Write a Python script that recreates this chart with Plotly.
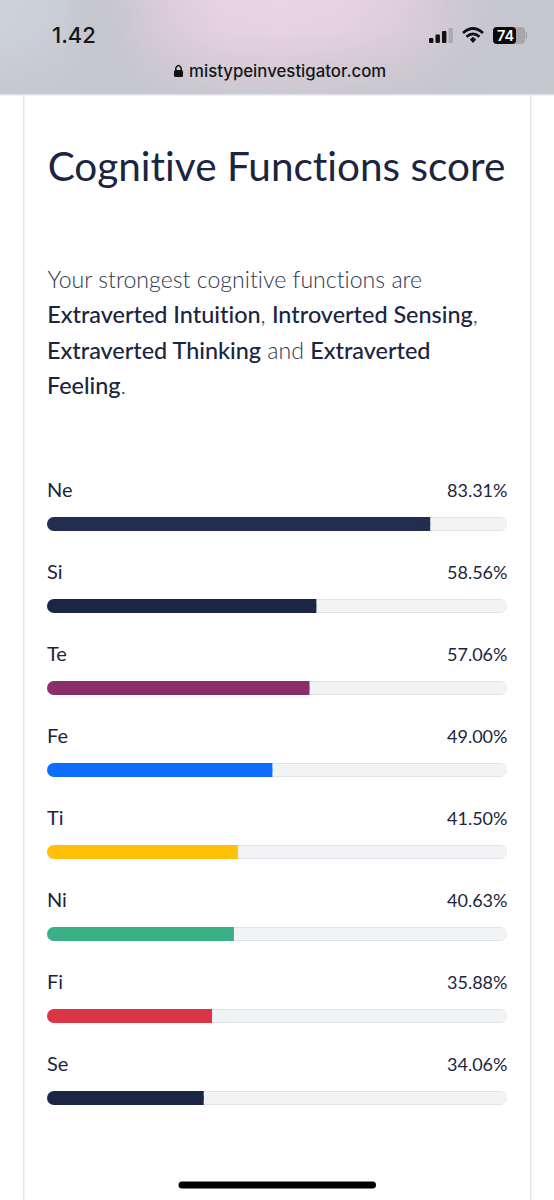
import plotly.graph_objects as go

W, H = 554, 1200
functions = ["Ne", "Si", "Te", "Fe", "Ti", "Ni", "Fi", "Se"]
scores = [83.31, 58.56, 57.06, 49.00, 41.50, 40.63, 35.88, 34.06]
score_labels = ["83.31%", "58.56%", "57.06%", "49.00%", "41.50%", "40.63%", "35.88%", "34.06%"]
colors = ["#232D50", "#1B2645", "#8A2F6B", "#0D6EFD", "#FFC107", "#3AB087", "#DC3545", "#1B2645"]
TRACK = 100
TAIL = 2
FONT = "Lato"
INK = "#1B2540"
BODY = "#2F3850"

def px(x): return x / W
def py(y): return 1 - y / H

fig = go.Figure()

# Blurred status bar backdrop
fig.add_trace(go.Heatmap(
    x=[0, 60, 120, 170, 220, 280, 340, 400, 450, 500, 554],
    y=[0, 30, 60, 95],
    z=[[.02, .07, .25, .65, .95, 1.0, .95, .70, .35, .16, .14],
       [.03, .08, .22, .58, .85, .92, .85, .62, .32, .16, .14],
       [.08, .11, .18, .38, .55, .60, .52, .38, .22, .14, .13],
       [.13, .14, .15, .20, .24, .26, .24, .20, .16, .13, .13]],
    zmin=0, zmax=1, zsmooth="best", showscale=False, hoverinfo="skip",
    colorscale=[[0, "#CFD5DD"], [.15, "#C5C6CE"], [.6, "#DBCDD8"], [1, "#E9D5E1"]],
    xaxis="x2", yaxis="y2"))

# Tracks: a darker rim under a lighter face. With an explicit base both ends get rounded.
n = len(functions)
for color, width in [("#E1E3E6", 14 / 82), ("#F2F3F5", 12 / 82)]:
    fig.add_trace(go.Bar(x=[TRACK] * n, base=[0] * n, y=functions, orientation="h", width=width,
                         marker=dict(color=color, line_width=0, cornerradius=width * 41),
                         hoverinfo="skip"))
# Filled part: rounded bar, with its right end squared off by a short plain bar
fig.add_trace(go.Bar(x=scores, base=[0] * n, y=functions, orientation="h", width=14 / 82,
                     marker=dict(color=colors, line_width=0, cornerradius=7), hoverinfo="skip"))
fig.add_trace(go.Bar(x=[TAIL] * n, base=[s - TAIL for s in scores], y=functions, orientation="h", width=14 / 82,
                     marker=dict(color=colors, line_width=0), hoverinfo="skip"))

ann = []
for f, lab in zip(functions, score_labels):
    ann.append(dict(x=0, y=f, xref="x", yref="y", text=f, showarrow=False, xanchor="left", yanchor="middle",
                    yshift=35.5, xshift=-2, font=dict(family=FONT, size=20, color=INK)))
    ann.append(dict(x=TRACK, y=f, xref="x", yref="y", text=lab, showarrow=False, xanchor="right", yanchor="middle",
                    yshift=34.5, xshift=2, font=dict(family=FONT, size=18, color=INK)))

def txt(x, y, t, size, color=INK, family=FONT, anchor="left", weight=None):
    f = dict(family=family, size=size, color=color)
    if weight:
        f["weight"] = weight
    ann.append(dict(x=px(x), y=py(y), xref="paper", yref="paper", text=t, showarrow=False, xanchor=anchor,
                    yanchor="middle", font=f, xshift=-2 if anchor == "left" else 0))

txt(47, 166, "Cognitive Functions score", 40.5, INK)
txt(47, 279, "Your strongest cognitive functions are", 23.1, BODY, weight=300)
def em(s): return f'<span style="font-weight:500;font-size:23.4px;color:{INK}">{s}</span>'
txt(47, 314, f"{em('Extraverted Intuition')}, {em('Introverted Sensing')},", 23.1, BODY, weight=300)
txt(47, 350, f"{em('Extraverted Thinking')} and {em('Extraverted')}", 23.1, BODY, weight=300)
txt(47, 385, f"{em('Feeling')}.", 23.1, BODY, weight=300)
txt(52, 35, "1.42", 22, "#15161A", "Inter", weight=500)
txt(189, 71.5, "mistypeinvestigator.com", 16.8, "#15161A", "Inter", weight=500)
txt(505, 35, "74", 14.5, "#FFFFFF", "Inter", "center", weight=600)

# Device chrome
def rect(x0, y0, x1, y1, color, layer="below"):
    fig.add_shape(type="rect", xref="paper", yref="paper", x0=px(x0), x1=px(x1), y0=py(y0), y1=py(y1),
                  fillcolor=color, line_width=0, layer=layer)

def pill(x0, y0, x1, y1, color, r, layer="above"):
    p = (f"M{x0+r},{y0} L{x1-r},{y0} Q{x1},{y0} {x1},{y0+r} L{x1},{y1-r} Q{x1},{y1} {x1-r},{y1} "
         f"L{x0+r},{y1} Q{x0},{y1} {x0},{y1-r} L{x0},{y0+r} Q{x0},{y0} {x0+r},{y0} Z")
    fig.add_shape(type="path", xref="x3", yref="y3", path=p, fillcolor=color, line_width=0, layer=layer)

rect(23, 95, 24.5, H, "#E5E7EB")
rect(530, 95, 531.5, H, "#E5E7EB")
rect(0, 94, W, 95.5, "#E2E3E7", "above")
# signal bars
for x, top, c in [(429, 38, "#111"), (435.5, 34.5, "#111"), (442, 31, "#111"), (448.5, 28, "#A9AAB0")]:
    pill(x, top, x + 4.4, 43, c, 1)
# wifi
for d, w in [("M463,33 Q473,24 483,33", 2.7), ("M466.5,36.8 Q473,31 479.5,36.8", 2.7)]:
    fig.add_shape(type="path", xref="x3", yref="y3", path=d, line=dict(color="#111", width=w), layer="above")
fig.add_shape(type="path", xref="x3", yref="y3", path="M469.8,39.6 L473,36.8 L476.2,39.6 L473,43 Z",
              fillcolor="#111", line_width=0, layer="above")
# battery
pill(493, 27, 525, 44, "#A6A6AC", 4)
pill(493, 27, 516, 44, "#0A0A0C", 4)
pill(525.5, 32, 527, 39, "#A6A6AC", 0.7)
# lock
pill(174, 70, 183, 77, "#111", 1.5)
fig.add_shape(type="path", xref="x3", yref="y3", path="M175.8,70 L175.8,68 Q178.5,63 181.2,68 L181.2,70",
              line=dict(color="#111", width=1.5), layer="above")
# home indicator
pill(178.5, 1181.5, 376, 1188.5, "#000000", 3.5)

fig.update_layout(
    width=W, height=H, margin=dict(l=0, r=0, t=0, b=0), paper_bgcolor="#FFFFFF", plot_bgcolor="rgba(0,0,0,0)",
    barmode="overlay", showlegend=False, annotations=ann,
    xaxis=dict(domain=[px(47), px(507)], range=[0, TRACK], visible=False, fixedrange=True),
    yaxis=dict(domain=[py(1139), py(483)], range=[7.5, -0.5], type="category", categoryorder="array",
               categoryarray=functions, visible=False, fixedrange=True),
    xaxis2=dict(domain=[0, 1], range=[0, W], visible=False, anchor="y2"),
    yaxis2=dict(domain=[py(95), 1], range=[95, 0], visible=False, anchor="x2"),
    xaxis3=dict(domain=[0, 1], range=[0, W], visible=False, anchor="y3"),
    yaxis3=dict(domain=[0, 1], range=[H, 0], visible=False, anchor="x3"),
)
# Invisible carrier so the pixel-space overlay axes exist
fig.add_trace(go.Scatter(x=[0], y=[0], xaxis="x3", yaxis="y3", mode="markers", marker=dict(opacity=0),
                         hoverinfo="skip"))
fig.write_html("out.html", config=dict(displayModeBar=False),
               post_script="document.body.style.margin='0';document.body.style.overflow='hidden';"
                           "var s=document.createElement('style');"
                           "s.textContent='svg text{font-feature-settings:\"liga\" 0,\"clig\" 0;"
                           "font-variant-ligatures:none}';"
                           "document.head.appendChild(s);")
